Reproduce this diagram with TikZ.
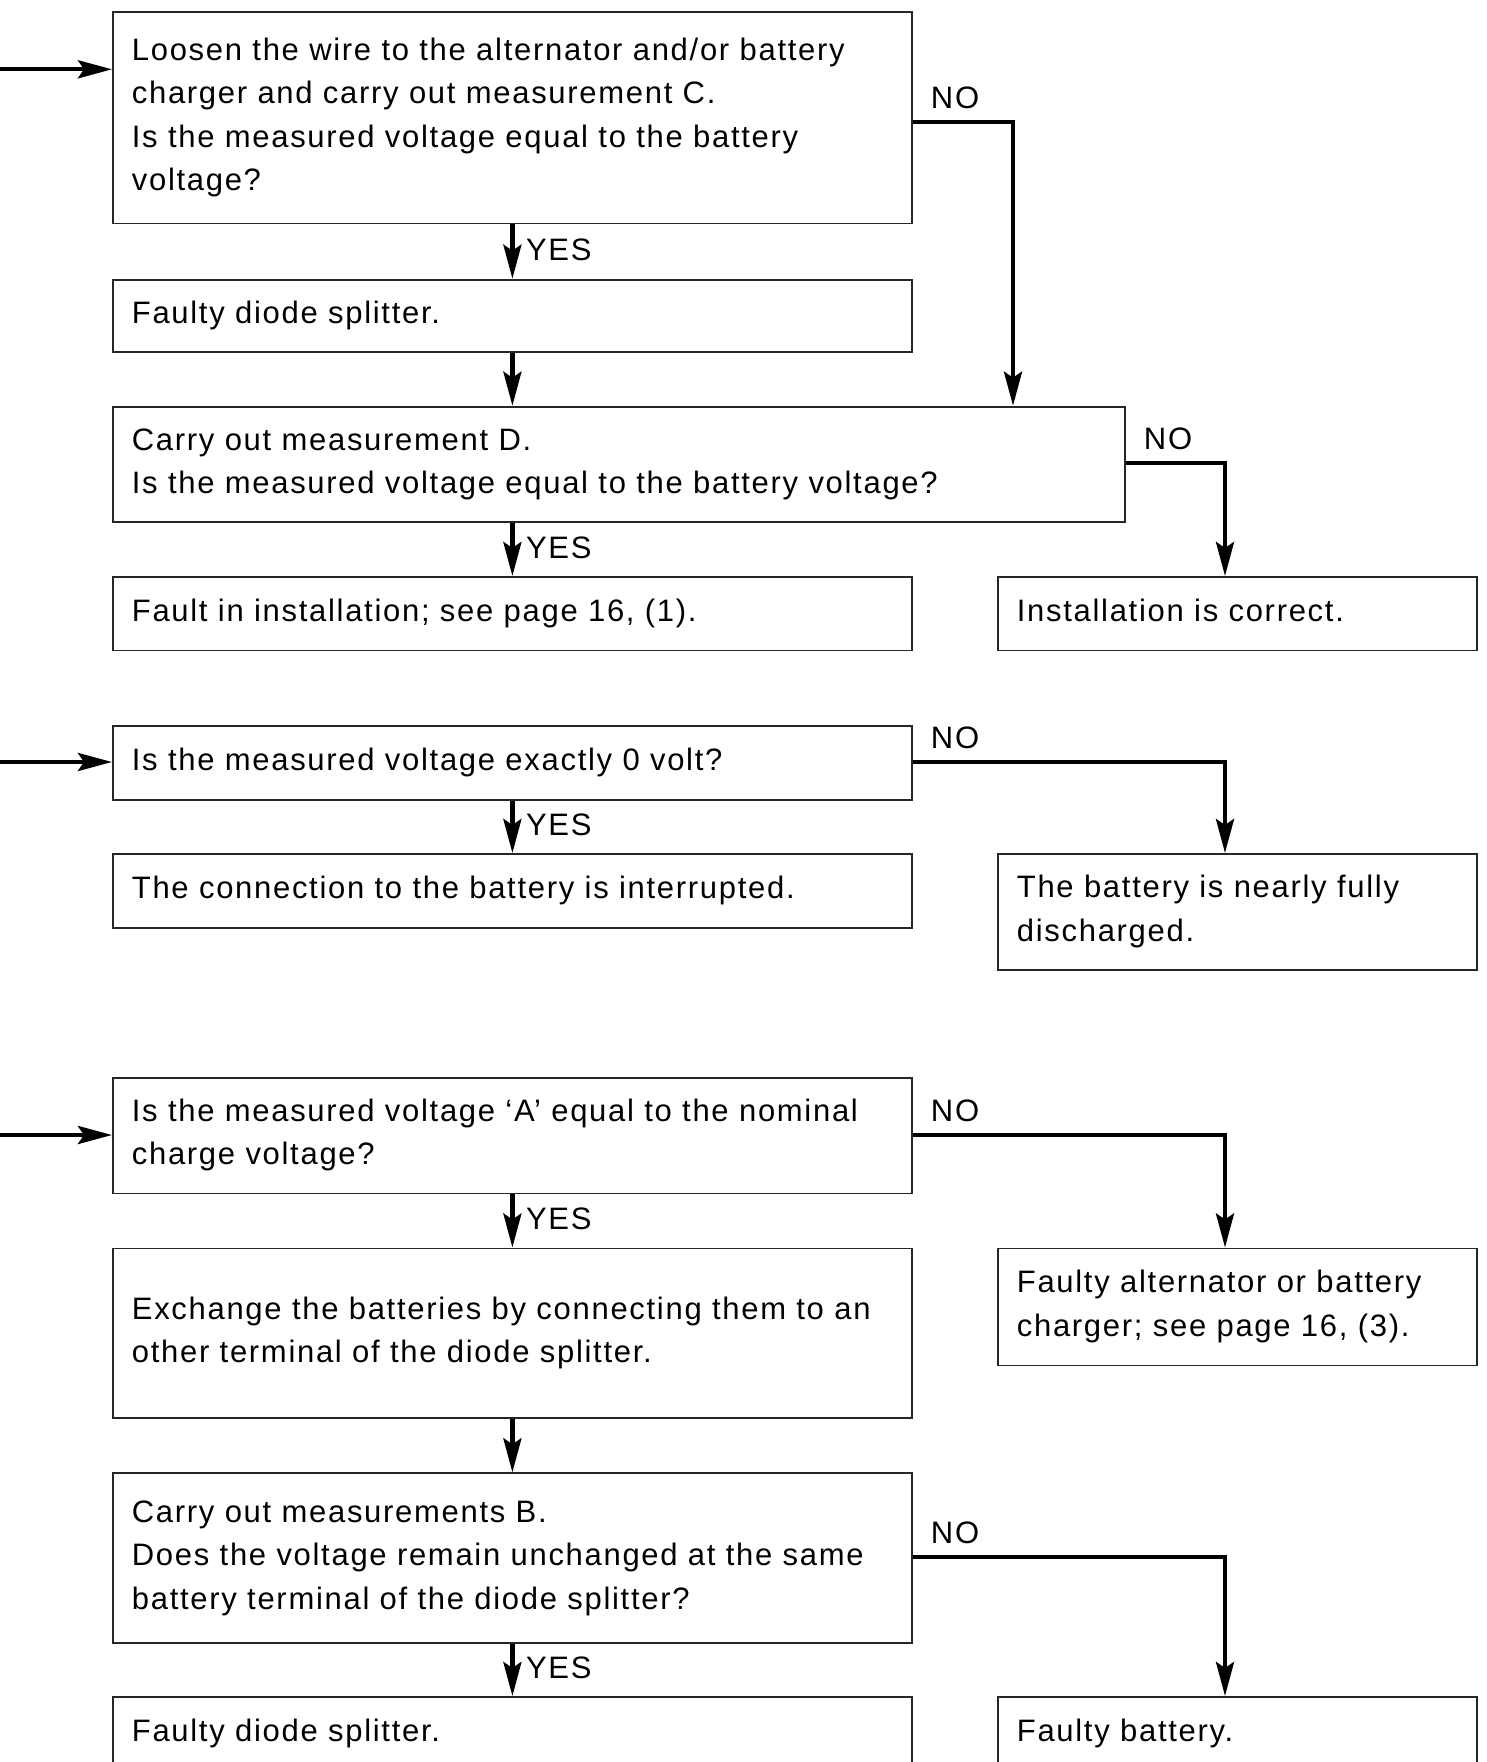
\documentclass[tikz,border=0pt]{standalone}
\usepackage{fontspec}
\setmainfont{Liberation Sans}[LetterSpace=5.5]
\usetikzlibrary{arrows.meta}

% text set in the boxes and on the connectors
\newcommand\boxfont{\fontsize{31pt}{43.4pt}\selectfont}
\newcommand\labfont{\fontsize{31pt}{40pt}\selectfont}
% fixed line height so one- and multi-line boxes centre alike
\newcommand\boxstrut{\rule[-12.6pt]{0pt}{40.6pt}}

\tikzset{
  box/.style={draw=black!85, line width=1.8pt, anchor=north west,
    inner xsep=19pt, inner ysep=0pt, align=left, font=\boxfont,
    execute at begin node=\boxstrut, execute at end node=\boxstrut},
  wide/.style={text width=761pt},
  narrow/.style={text width=441pt},
  conn/.style={line width=4.3pt, draw=black,
    -{Stealth[length=34pt,width=18pt,inset=6pt]}},
  yeslab/.style={anchor=west, inner sep=0pt, font=\labfont,
    text height=22pt, text depth=0pt, xshift=11.5pt, yshift=2pt},
  nolab/.style={anchor=base west, inner sep=0pt, font=\labfont,
    xshift=16pt, yshift=13.7pt},
}

\begin{document}
\begin{tikzpicture}[x=1pt, y=-1pt]
\useasboundingbox (0,0) rectangle (1487,1762);
\clip (0,0) rectangle (1487,1762);

% ---------- first chart: measurement C / D ----------
\node[box, wide, minimum height=211.5pt] (b1) at (112,11)
  {Loosen the wire to the alternator and/or battery\\
   charger and carry out measurement C.\\
   Is the measured voltage equal to the battery\\
   voltage?};
\node[box, wide, minimum height=72.5pt] (b2) at (112,278.7)
  {Faulty diode splitter.};
\node[box, text width=974pt, minimum height=115.3pt] (b3) at (112,405.7)
  {Carry out measurement D.\\
   Is the measured voltage equal to the battery voltage?};
\node[box, wide, minimum height=73.6pt] (b4) at (112,576)
  {Fault in installation; see page 16, (1).};
\node[box, narrow, minimum height=73.6pt] (b5) at (997,576)
  {Installation is correct.};

\coordinate (s1) at (0,69.3);
\coordinate (k1) at (1013,122);
\coordinate (k2) at (1225,463);

\draw[conn] (s1) -- (s1 -| b1.west);
\draw[conn] (b1.south) -- (b2.north) node[midway, yeslab] (y1) {YES};
\draw[conn] (b2.south) -- (b2.south |- b3.north);
\draw[conn] (b1.east |- k1) node[nolab] (n1) {NO} -- (k1) -- (k1 |- b3.north);
\draw[conn] (b3.south -| b4.north) -- (b4.north) node[midway, yeslab] (y2) {YES};
\draw[conn] (b3.east |- k2) node[nolab] (n2) {NO} -- (k2) -- (k2 |- b5.north);

% ---------- second chart: 0 volt ----------
\node[box, wide, minimum height=74pt] (b6) at (112,725)
  {Is the measured voltage exactly 0 volt?};
\node[box, wide, minimum height=74pt] (b7) at (112,853)
  {The connection to the battery is interrupted.};
\node[box, narrow, minimum height=116pt] (b8) at (997,853)
  {The battery is nearly fully\\
   discharged.};

\coordinate (s2) at (0,762);
\coordinate (k3) at (1225,762);

\draw[conn] (s2) -- (s2 -| b6.west);
\draw[conn] (b6.south) -- (b7.north) node[midway, yeslab] (y3) {YES};
\draw[conn] (b6.east |- k3) node[nolab] (n3) {NO} -- (k3) -- (k3 |- b8.north);

% ---------- third chart: charge voltage ----------
\node[box, wide, minimum height=115.8pt] (b9) at (112,1076.7)
  {Is the measured voltage ‘A’ equal to the nominal\\
   charge voltage?};
\node[box, wide, minimum height=169.5pt] (b10) at (112,1247.5)
  {Exchange the batteries by connecting them to an\\
   other terminal of the diode splitter.};
\node[box, narrow, minimum height=117pt] (b11) at (997,1247.5)
  {Faulty alternator or battery\\
   charger; see page 16, (3).};
\node[box, wide, minimum height=169.7pt] (b12) at (112,1472.3)
  {Carry out measurements B.\\
   Does the voltage remain unchanged at the same\\
   battery terminal of the diode splitter?};
\node[box, wide, minimum height=74pt] (b13) at (112,1696)
  {Faulty diode splitter.};
\node[box, narrow, minimum height=74pt] (b14) at (997,1696)
  {Faulty battery.};

\coordinate (s3) at (0,1135);
\coordinate (k4) at (1225,1135);
\coordinate (k5) at (1225,1557);

\draw[conn] (s3) -- (s3 -| b9.west);
\draw[conn] (b9.south) -- (b10.north) node[midway, yeslab] (y4) {YES};
\draw[conn] (b9.east |- k4) node[nolab] (n4) {NO} -- (k4) -- (k4 |- b11.north);
\draw[conn] (b10.south) -- (b12.north);
\draw[conn] (b12.south) -- (b13.north) node[midway, yeslab] (y5) {YES};
\draw[conn] (b12.east |- k5) node[nolab] (n5) {NO} -- (k5) -- (k5 |- b14.north);
\end{tikzpicture}
\end{document}
